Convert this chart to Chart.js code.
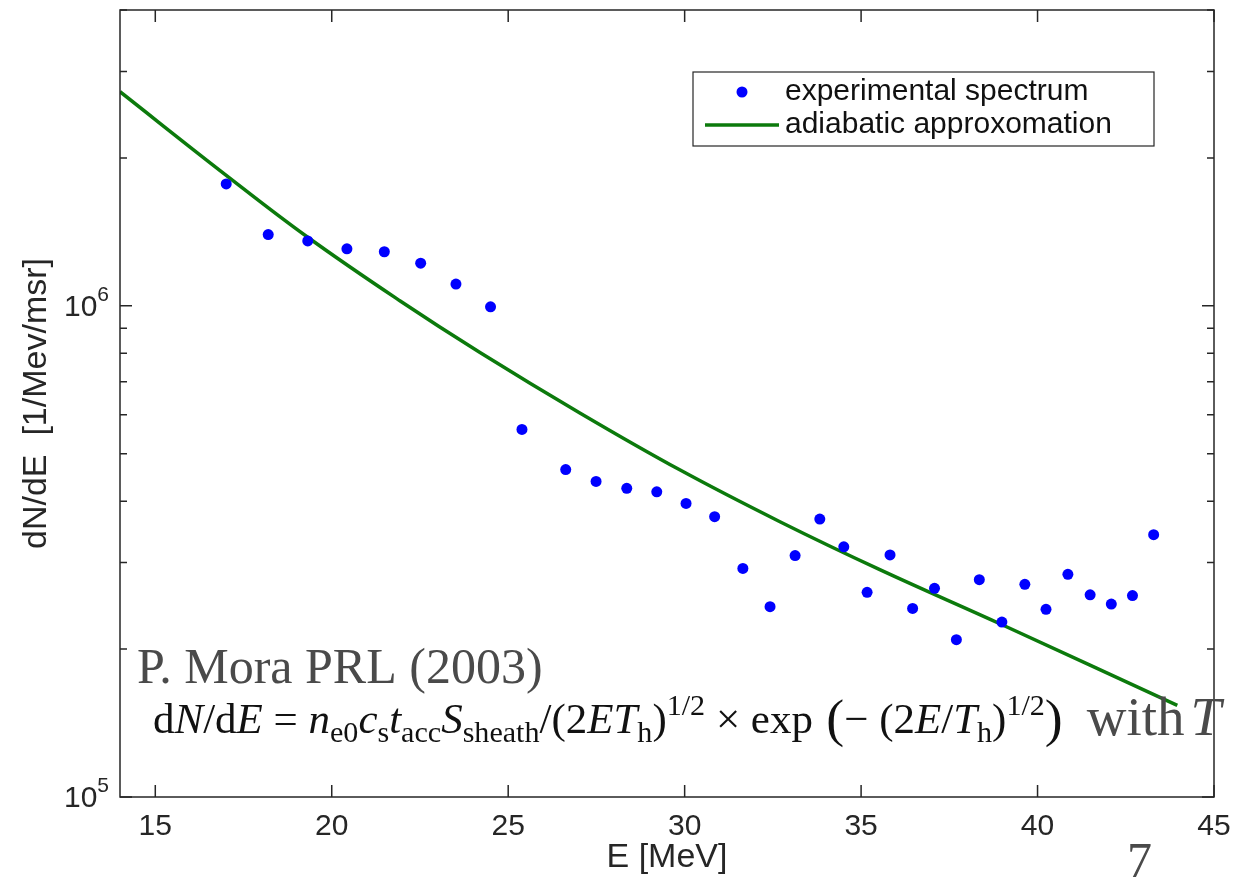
<!DOCTYPE html>
<html>
<head>
<meta charset="utf-8">
<script src="https://cdn.jsdelivr.net/npm/chart.js@4/dist/chart.umd.min.js"></script>
<style>
  html, body { margin: 0; padding: 0; background: #fff; }
  #wrap { width: 1241px; height: 881px; }
</style>
</head>
<body>
<div id="wrap"><canvas id="spec"></canvas></div>
<script>
// ==== Data ====
const expEnergy = [17.01, 18.20, 19.32, 20.43, 21.49, 22.52, 23.52, 24.50, 25.39, 26.63,
                   27.49, 28.36, 29.21, 30.04, 30.85, 31.65, 32.42, 33.13, 33.83, 34.51,
                   35.17, 35.82, 36.46, 37.08, 37.70, 38.35, 38.99, 39.64, 40.24, 40.86,
                   41.49, 42.09, 42.69, 43.29];
const expCounts = [1.77e6, 1.396e6, 1.355e6, 1.306e6, 1.288e6, 1.221e6, 1.107e6, 9.95e5, 5.60e5, 4.64e5,
                   4.39e5, 4.25e5, 4.18e5, 3.96e5, 3.72e5, 2.92e5, 2.44e5, 3.10e5, 3.68e5, 3.23e5,
                   2.61e5, 3.11e5, 2.42e5, 2.66e5, 2.09e5, 2.77e5, 2.27e5, 2.71e5, 2.41e5, 2.84e5,
                   2.58e5, 2.47e5, 2.57e5, 3.42e5];

const fitEnergy = [14.0, 17.01, 19.33, 21.94, 24.20, 27.03, 29.86, 32.70, 35.53, 38.98, 43.96];
const fitCounts = [2.727e6, 1.843e6, 1.377e6, 1.0227e6, 8.034e5, 6.051e5, 4.635e5, 3.634e5, 2.903e5, 2.245e5, 1.537e5];

const seriesNames = ['experimental spectrum', 'adiabatic approxomation'];
const xTicks = [15, 20, 25, 30, 35, 40, 45];
const yTicks = [1e5, 2e5, 3e5, 4e5, 5e5, 6e5, 7e5, 8e5, 9e5, 1e6, 2e6, 3e6, 4e6];
const yLabelled = [1e5, 1e6];

// formula pieces: [text, italic, -1 sub / 0 / 1 sup, size factor]
const formula = [
    ['d', 0, 0], ['N', 1, 0], ['/d', 0, 0], ['E', 1, 0], [' = ', 0, 0],
    ['n', 1, 0], ['e0', 0, -1], ['c', 1, 0], ['s', 0, -1], ['t', 1, 0], ['acc', 0, -1],
    ['S', 1, 0], ['sheath', 0, -1], ['/(2', 0, 0], ['ET', 1, 0], ['h', 0, -1], [')', 0, 0],
    ['1/2', 0, 1], [' × exp', 0, 0], [' (', 0, 0, 1.25], ['− (2', 0, 0], ['E', 1, 0], ['/', 0, 0],
    ['T', 1, 0], ['h', 0, -1], [')', 0, 0], ['1/2', 0, 1], [')', 0, 0, 1.25]
];

const SANS = '"Liberation Sans", Arial, Helvetica, sans-serif';
const SERIF = '"Liberation Serif", "Times New Roman", serif';
const AXIS = '#262626';
const BLUE = '#0000ff';
const GREEN = '#0c7a0c';

// ==== Frame, inward ticks, legend and annotations (MATLAB look) ====
const matlabFrame = {
    id: 'matlabFrame',
    afterDraw(chart) {
        const ctx = chart.ctx;
        const a = chart.chartArea;
        const xs = chart.scales.x, ys = chart.scales.y;
        ctx.save();
        ctx.strokeStyle = AXIS;
        ctx.lineWidth = 1.5;
        ctx.strokeRect(a.left, a.top, a.right - a.left, a.bottom - a.top);

        ctx.beginPath();
        xTicks.forEach(v => {
            const px = xs.getPixelForValue(v);
            ctx.moveTo(px, a.bottom); ctx.lineTo(px, a.bottom - 12);
            ctx.moveTo(px, a.top); ctx.lineTo(px, a.top + 12);
        });
        yTicks.forEach(v => {
            const py = ys.getPixelForValue(v);
            const len = yLabelled.includes(v) ? 12 : 7;
            ctx.moveTo(a.left, py); ctx.lineTo(a.left + len, py);
            ctx.moveTo(a.right, py); ctx.lineTo(a.right - len, py);
        });
        ctx.stroke();

        // y labels as 10^n
        ctx.fillStyle = AXIS;
        ctx.textBaseline = 'middle';
        yLabelled.forEach(v => {
            const py = ys.getPixelForValue(v);
            const ex = String(Math.round(Math.log10(v)));
            ctx.font = '30px ' + SANS;
            const wb = ctx.measureText('10').width;
            ctx.font = '21px ' + SANS;
            const we = ctx.measureText(ex).width;
            const right = a.left - 11;
            ctx.textAlign = 'left';
            ctx.font = '30px ' + SANS;
            ctx.fillText('10', right - we - wb, py + 2);
            ctx.font = '21px ' + SANS;
            ctx.fillText(ex, right - we, py - 11);
        });

        // legend box
        const lx = a.right - 521, ly = a.top + 62, lw = 461, lh = 74;
        ctx.fillStyle = '#fff';
        ctx.fillRect(lx, ly, lw, lh);
        ctx.lineWidth = 1.2;
        ctx.strokeRect(lx, ly, lw, lh);
        ctx.fillStyle = BLUE;
        ctx.beginPath();
        ctx.arc(lx + 49, ly + 20, 5.5, 0, Math.PI * 2);
        ctx.fill();
        ctx.strokeStyle = GREEN;
        ctx.lineWidth = 3.5;
        ctx.beginPath();
        ctx.moveTo(lx + 12, ly + 53); ctx.lineTo(lx + 86, ly + 53);
        ctx.stroke();
        ctx.fillStyle = '#111';
        ctx.font = '30px ' + SANS;
        ctx.textAlign = 'left';
        ctx.fillText(seriesNames[0], lx + 92, ly + 20);
        ctx.fillText(seriesNames[1], lx + 92, ly + 53);

        // citation
        ctx.textBaseline = 'alphabetic';
        ctx.fillStyle = '#4a4a4a';
        ctx.font = '50px ' + SERIF;
        ctx.fillText('P. Mora PRL (2003)', a.left + 17, 683);

        // formula
        const base = 40;
        const fontFor = (p, s) => (p[1] ? 'italic ' : '') + s + 'px ' + SERIF;
        const sizeOf = (p, s) => (p[2] ? s * 0.7 : s * (p[3] || 1));
        let total = 0;
        formula.forEach(p => { ctx.font = fontFor(p, sizeOf(p, base)); total += ctx.measureText(p[0]).width; });
        const size = base * 910 / total;
        let x = a.left + 33;
        const bl = 733;
        ctx.fillStyle = '#111';
        formula.forEach(p => {
            const s = sizeOf(p, size);
            ctx.font = fontFor(p, s);
            const dy = p[2] === -1 ? size * 0.22 : p[2] === 1 ? -size * 0.42 : (p[3] ? size * 0.08 : 0);
            ctx.fillText(p[0], x, bl + dy);
            x += ctx.measureText(p[0]).width;
        });
        ctx.fillStyle = '#4a4a4a';
        ctx.font = '55px ' + SERIF;
        ctx.fillText('with', x + 24, bl + 2);
        const wx = x + 24 + ctx.measureText('with').width + 6;
        ctx.font = 'italic 55px ' + SERIF;
        ctx.fillText('T', wx, bl + 2);

        // slide number
        ctx.font = '50px ' + SERIF;
        ctx.fillText('7', 1127, 877);
        ctx.restore();
    }
};

const ctx = document.getElementById('spec').getContext('2d');
const specChart = new Chart(ctx, {
    type: 'scatter',
    data: {
        datasets: [{
            label: seriesNames[0],
            data: expEnergy.map((e, i) => ({ x: e, y: expCounts[i] })),
            backgroundColor: BLUE,
            borderWidth: 0,
            pointRadius: 5.5,
            order: 1
        }, {
            label: seriesNames[1],
            data: fitEnergy.map((e, i) => ({ x: e, y: fitCounts[i] })),
            showLine: true,
            borderColor: GREEN,
            borderWidth: 3.5,
            pointRadius: 0,
            tension: 0.4,
            order: 2
        }]
    },
    options: {
        responsive: true,
        maintainAspectRatio: false,
        animation: false,
        layout: { padding: { top: 10, right: 27, left: 0, bottom: 0 } },
        plugins: {
            legend: { display: false },
            tooltip: { enabled: false }
        },
        scales: {
            x: {
                type: 'linear',
                min: 14,
                max: 45,
                afterBuildTicks: s => { s.ticks = xTicks.map(v => ({ value: v })); },
                afterFit: s => { s.height = 84; },
                grid: { display: false },
                border: { display: false },
                ticks: { font: { size: 30, family: SANS }, color: AXIS, padding: 4, maxRotation: 0, autoSkip: false },
                title: { display: true, text: 'E [MeV]', color: AXIS, font: { size: 34, family: SANS }, padding: { top: 0, bottom: 3 } }
            },
            y: {
                type: 'logarithmic',
                min: 1e5,
                max: 4e6,
                afterBuildTicks: s => { s.ticks = yTicks.map(v => ({ value: v })); },
                afterFit: s => { s.width = 120; },
                grid: { display: false },
                border: { display: false },
                ticks: { display: false },
                title: { display: true, text: 'dN/dE  [1/Mev/msr]', color: AXIS, font: { size: 34, family: SANS }, padding: { top: 16, bottom: 0 } }
            }
        }
    },
    plugins: [matlabFrame]
});
</script>
</body>
</html>
